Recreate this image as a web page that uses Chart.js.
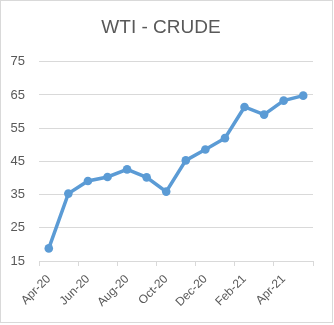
<!DOCTYPE html>
<html>
<head>
<meta charset="utf-8">
<script src="https://cdn.jsdelivr.net/npm/chart.js@4"></script>
<style>
  html, body { margin: 0; padding: 0; background: #fff; }
  #frame { position: absolute; left: 0; top: 0; width: 331px; height: 321px; border: 1px solid #d9d9d9; }
  canvas { position: absolute; left: 0; top: 0; }
</style>
</head>
<body>
<div id="frame"></div>
<canvas id="c" width="334" height="325"></canvas>
<script>
const chartTitle = "WTI - CRUDE";
const months = ["Apr-20","May-20","Jun-20","Jul-20","Aug-20","Sep-20","Oct-20","Nov-20","Dec-20","Jan-21","Feb-21","Mar-21","Apr-21","May-21"];
const wtiPrices = [18.8, 35.3, 39.1, 40.3, 42.6, 40.2, 35.9, 45.3, 48.6, 52.0, 61.4, 59.1, 63.3, 64.8];
const yTicks = [15, 25, 35, 45, 55, 65, 75];

const textColor = '#595959';
const gridColor = '#d9d9d9';
const lineColor = '#5b9bd5';
const fontFamily = "'Liberation Sans', Arial, sans-serif";

new Chart(document.getElementById('c'), {
  type: 'line',
  data: {
    labels: months,
    datasets: [{
      data: wtiPrices,
      borderColor: lineColor,
      backgroundColor: lineColor,
      borderWidth: 3.5,
      pointRadius: 4.3,
      pointHoverRadius: 4.3,
      pointBorderWidth: 0,
      tension: 0,
      fill: false
    }]
  },
  options: {
    responsive: false,
    animation: false,
    devicePixelRatio: 1,
    layout: { padding: { top: 12, left: 9, right: 21, bottom: 4 } },
    plugins: {
      legend: { display: false },
      tooltip: { enabled: false },
      title: {
        display: true,
        text: chartTitle,
        color: textColor,
        font: { family: fontFamily, size: 19, weight: 'normal' },
        padding: { top: 4, bottom: 23 }
      }
    },
    scales: {
      x: {
        type: 'category',
        offset: true,
        afterFit: (axis) => { axis.height = 60; axis.paddingLeft = 0; axis.paddingRight = 0; },
        grid: {
          offset: true,
          drawOnChartArea: false,
          drawTicks: true,
          tickLength: 5,
          tickColor: (ctx) => (ctx.index === undefined || ctx.index % 2 === 0) ? gridColor : 'rgba(0,0,0,0)'
        },
        border: { display: true, color: gridColor, width: 1 },
        ticks: {
          autoSkip: false,
          maxRotation: 45,
          minRotation: 45,
          color: textColor,
          padding: 6,
          font: { family: fontFamily, size: 12 },
          callback: function(value, index) { return index % 2 === 0 ? months[index] : ''; }
        }
      },
      y: {
        min: yTicks[0],
        max: yTicks[yTicks.length - 1],
        afterBuildTicks: (axis) => { axis.ticks = yTicks.map(v => ({ value: v })); },
        afterFit: (axis) => { axis.width = 30; },
        grid: { color: gridColor, drawTicks: false, lineWidth: 1 },
        border: { display: false },
        ticks: {
          color: textColor,
          padding: 14,
          font: { family: fontFamily, size: 13 }
        }
      }
    }
  }
});
</script>
</body>
</html>
